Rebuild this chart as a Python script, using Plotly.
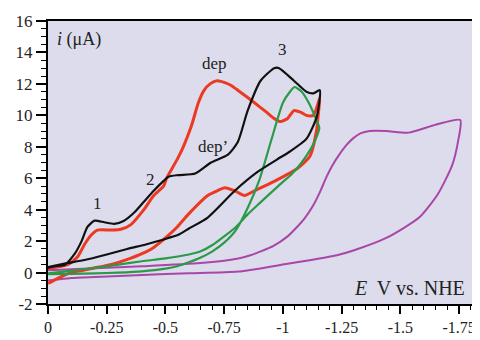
import plotly.graph_objects as go

# ---- data (potential V vs NHE, current µA) ----
black_fwd_v = [0, -0.03, -0.072, -0.114, -0.143, -0.168, -0.198, -0.24, -0.282, -0.324, -0.366, -0.408, -0.45, -0.49,
               -0.513, -0.555, -0.627, -0.694, -0.766, -0.808, -0.85, -0.905, -0.963, -0.984, -1.047, -1.10, -1.13, -1.157]
black_fwd_i = [0.3, 0.4, 0.5, 1.2, 2.0, 2.9, 3.3, 3.2, 3.1, 3.3, 3.8, 4.5, 5.2, 5.8,
               6.1, 6.2, 6.3, 7.0, 7.5, 8.3, 10.3, 12.2, 13.0, 13.0, 12.2, 11.5, 11.4, 11.6]
black_ret_v = [-1.144, -1.10, -1.03, -0.976, -0.892, -0.795, -0.68, -0.6, -0.555, -0.513, -0.42, -0.337, -0.25,
               -0.156, -0.08, -0.03, 0]
black_ret_i = [9.9, 8.5, 7.7, 7.2, 6.4, 5.2, 3.5, 2.8, 2.4, 2.2, 1.8, 1.5, 1.15, 0.8, 0.6, 0.45, 0.35]

red_fwd_v = [0, -0.084, -0.126, -0.156, -0.185, -0.21, -0.27, -0.31, -0.353, -0.408, -0.45, -0.492, -0.505,
             -0.55, -0.576, -0.61, -0.64, -0.665, -0.69, -0.72, -0.75, -0.78, -0.808, -0.879, -0.93, -0.963,
             -0.99, -1.02, -1.047, -1.075, -1.10, -1.13, -1.157]
red_fwd_i = [0.25, 0.5, 1.0, 1.8, 2.4, 2.7, 2.7, 2.75, 3.05, 4.0, 4.9, 5.5, 6.0,
             7.2, 8.0, 9.3, 10.8, 11.6, 12.0, 12.2, 12.1, 11.9, 11.6, 10.8, 10.2, 9.8,
             9.6, 9.8, 10.3, 10.2, 10.0, 10.0, 11.1]
red_ret_v = [-1.15, -1.144, -1.115, -1.06, -0.963, -0.879, -0.837, -0.795, -0.753, -0.72, -0.68, -0.597,
             -0.55, -0.5, -0.45, -0.4, -0.35, -0.3, -0.25, -0.2, -0.15, -0.1, -0.05, 0]
red_ret_i = [10.0, 9.1, 7.4, 6.6, 5.8, 5.2, 4.9, 5.2, 5.4, 5.2, 4.9, 3.7,
             2.9, 2.2, 1.6, 1.2, 0.9, 0.65, 0.45, 0.3, 0.15, 0.0, -0.3, -0.7]

green_fwd_v = [0, -0.1, -0.2, -0.3, -0.4, -0.5, -0.55, -0.6, -0.65, -0.7, -0.75, -0.8, -0.85, -0.9, -0.95,
               -1.0, -1.03, -1.05, -1.08, -1.11, -1.14, -1.155]
green_fwd_i = [-0.1, -0.08, -0.05, 0.0, 0.08, 0.25, 0.4, 0.65, 0.95, 1.35, 1.9, 2.7, 4.1, 5.9, 8.4,
               10.8, 11.5, 11.8, 11.5, 10.8, 9.8, 9.2]
green_ret_v = [-1.14, -1.12, -1.08, -1.04, -0.98, -0.9, -0.85, -0.8, -0.75, -0.7, -0.65, -0.6, -0.5, -0.4,
               -0.3, -0.2, -0.1, 0]
green_ret_i = [8.5, 7.9, 7.0, 6.3, 5.5, 4.4, 3.7, 2.9, 2.3, 1.75, 1.35, 1.15, 0.9, 0.72, 0.5, 0.3, 0.12, -0.05]

magenta_fwd_v = [0, -0.05, -0.1, -0.2, -0.4, -0.6, -0.81, -1.02, -1.1, -1.23, -1.3, -1.44, -1.58, -1.66,
                 -1.72, -1.745, -1.755]
magenta_fwd_i = [-0.5, -0.42, -0.35, -0.28, -0.15, -0.05, 0.06, 0.56, 0.75, 1.1, 1.4, 2.2, 3.5, 5.0,
                 6.8, 8.3, 9.7]
magenta_ret_v = [-1.65, -1.535, -1.44, -1.37, -1.33, -1.30, -1.27, -1.24, -1.21, -1.186, -1.16, -1.13,
                 -1.09, -1.06, -1.02, -0.96, -0.862, -0.81, -0.65, -0.4, -0.2, 0]
magenta_ret_i = [9.4, 8.9, 9.0, 9.0, 8.85, 8.55, 8.1, 7.5, 6.8, 6.1, 5.2, 4.3,
                 3.4, 2.9, 2.3, 1.7, 1.1, 0.9, 0.6, 0.4, 0.28, 0.15]

x_tickvals = [0, -0.25, -0.5, -0.75, -1, -1.25, -1.5, -1.75]
x_ticktext = ["0", "-0.25", "-0.5", "-0.75", "-1", "-1.25", "-1.5", "-1.75"]
y_tickvals = [-2, 0, 2, 4, 6, 8, 10, 12, 14, 16]
y_ticktext = ["-2", "0", "2", "4", "6", "8", "10", "12", "14", "16"]

labels = [
    ("dep", -0.707, 13.3),
    ("dep\u2019", -0.703, 8.0),
    ("3", -1.0, 14.2),
    ("2", -0.437, 5.9),
    ("1", -0.21, 4.4),
]

fig = go.Figure()

def add_loop(fv, fi, rv, ri, color, width):
    fig.add_trace(go.Scatter(
        x=fv + rv, y=fi + ri, mode="lines",
        line=dict(color=color, width=width, shape="spline", smoothing=0.6),
        hoverinfo="skip", showlegend=False))

add_loop(magenta_fwd_v, magenta_fwd_i, magenta_ret_v, magenta_ret_i, "#a946a8", 2)
add_loop(red_fwd_v, red_fwd_i, red_ret_v, red_ret_i, "#ec3a22", 3)
add_loop(green_fwd_v, green_fwd_i, green_ret_v, green_ret_i, "#2b9a48", 2.2)
add_loop(black_fwd_v, black_fwd_i, black_ret_v, black_ret_i, "#111111", 2.2)

serif = "Liberation Serif"
for txt, x, y in labels:
    fig.add_annotation(x=x, y=y, text=txt, showarrow=False,
                       font=dict(family=serif, size=17, color="#222"))
fig.add_annotation(x=-0.03, y=14.8, text="<i>i</i> (\u03bcA)", showarrow=False, xanchor="left",
                   font=dict(family=serif, size=18, color="#222"))
fig.add_annotation(x=-1.782, y=-1.0, text="<i>E</i>  V vs. NHE", showarrow=False, xanchor="right",
                   font=dict(family=serif, size=20, color="#222"))

# page body has an 8px default margin; the figure is sized so that the plot area
# lands where the reference has it inside the 480x340 window
fig.update_layout(
    width=472, height=332,
    margin=dict(l=40, r=4, t=11, b=25),
    paper_bgcolor="white", plot_bgcolor="#dcdcec",
    font=dict(family=serif, size=16, color="#222"),
)
fig.update_xaxes(range=[0, -1.805], tickvals=x_tickvals, ticktext=x_ticktext,
                 ticks="outside", ticklen=8, tickwidth=1.5, tickcolor="black",
                 minor=dict(dtick=0.05, ticks="outside", ticklen=4, tickcolor="black", tickwidth=1),
                 showgrid=False, zeroline=False, showline=True, linecolor="black", linewidth=2, mirror=True)
fig.update_yaxes(range=[-2, 16], tickvals=y_tickvals, ticktext=y_ticktext,
                 tickfont=dict(size=17),
                 ticks="outside", ticklen=10, tickwidth=1.5, tickcolor="black",
                 minor=dict(dtick=0.5, ticks="outside", ticklen=5, tickcolor="black", tickwidth=1),
                 showgrid=False, zeroline=False, showline=True, linecolor="black", linewidth=2, mirror=True)

fig.write_html("out.html")
